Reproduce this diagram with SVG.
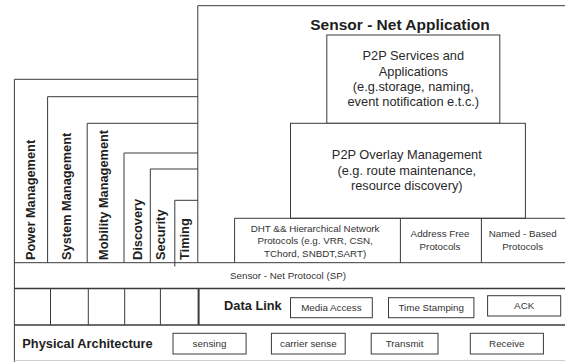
<svg xmlns="http://www.w3.org/2000/svg" width="565" height="362" viewBox="0 0 565 362">
<style>
  .ln { fill: none; stroke: #3a3a3a; stroke-width: 1; }
  .box { fill: #fff; stroke: #3a3a3a; stroke-width: 1; }
  .bold { font-family: "Liberation Sans", Arial, sans-serif; font-weight: bold; fill: #1e1e1e; }
  .t13 { font-family: "Liberation Sans", Arial, sans-serif; font-size: 12.8px; fill: #2a2a2a; text-anchor: middle; }
  .t10 { font-family: "Liberation Sans", Arial, sans-serif; font-size: 9.8px; fill: #333; text-anchor: middle; }
  .vt { font-family: "Liberation Sans", Arial, sans-serif; font-weight: bold; font-size: 12.8px; fill: #1e1e1e; }
</style>
<rect x="0" y="0" width="565" height="362" fill="#fff"/>

<g id="frame">
  <line class="ln" x1="14.4" y1="79.3" x2="14.4" y2="362"/>
  <line class="ln" x1="197.8" y1="5.7" x2="197.8" y2="262.7"/>
  <line class="ln" x1="197.8" y1="5.7" x2="565" y2="5.7"/>
  <line class="ln" x1="14.4" y1="262.7" x2="565" y2="262.7"/>
  <line class="ln" x1="14.4" y1="288.5" x2="565" y2="288.5" style="stroke-width:1.3"/>
  <line class="ln" x1="14.4" y1="325" x2="565" y2="325" style="stroke-width:1.3"/>
  <line x1="14.4" y1="360.5" x2="565" y2="360.5" stroke="#cfcfcf" stroke-width="1"/>
</g>

<g id="power-management">
  <path class="ln" d="M14.4 79.3 H197.8"/>
  <text class="vt" transform="translate(34.5,260) rotate(-90)">Power Management</text>
</g>
<g id="system-management">
  <path class="ln" d="M47.6 262.7 V96.7 H197.8"/>
  <text class="vt" transform="translate(71.2,260) rotate(-90)">System Management</text>
</g>
<g id="mobility-management">
  <path class="ln" d="M87.2 262.7 V123.3 H197.8"/>
  <text class="vt" transform="translate(108.3,260) rotate(-90)">Mobility Management</text>
</g>
<g id="discovery">
  <path class="ln" d="M124 262.7 V153 H197.8"/>
  <text class="vt" transform="translate(141.5,260) rotate(-90)">Discovery</text>
</g>
<g id="security">
  <path class="ln" d="M150.3 262.7 V169 H197.8"/>
  <text class="vt" transform="translate(164.5,260) rotate(-90)">Security</text>
</g>
<g id="timing">
  <path class="ln" d="M174.8 266.5 V200.3 H197.8"/>
  <text class="vt" transform="translate(188.8,260) rotate(-90)">Timing</text>
</g>

<g id="sensor-net-application">
  <text class="bold" x="400" y="29.5" font-size="15.5" text-anchor="middle">Sensor - Net Application</text>
</g>

<g id="p2p-services">
  <rect class="box" x="326.8" y="35" width="173" height="88.3"/>
  <text class="t13" x="413.3" y="60">P2P Services and</text>
  <text class="t13" x="413.3" y="75.5">Applications</text>
  <text class="t13" x="413.3" y="90.8">(e.g.storage, naming,</text>
  <text class="t13" x="413.3" y="106">event notification e.t.c.)</text>
</g>

<g id="p2p-overlay">
  <rect class="box" x="290.5" y="123.3" width="234.9" height="95"/>
  <text class="t13" x="406.8" y="159.3">P2P Overlay Management</text>
  <text class="t13" x="406.8" y="174.6">(e.g. route maintenance,</text>
  <text class="t13" x="406.8" y="189.5">resource discovery)</text>
</g>

<g id="dht-protocols">
  <path class="ln" d="M234.6 262.7 V218.3 H400.4 V262.7"/>
  <text class="t10" x="315.1" y="231.7">DHT &amp;&amp; Hierarchical Network</text>
  <text class="t10" x="315.1" y="244">Protocols (e.g. VRR, CSN,</text>
  <text class="t10" x="315.1" y="256.5">TChord, SNBDT,SART)</text>
</g>
<g id="address-free">
  <path class="ln" d="M400.4 218.3 H481.4 V262.7"/>
  <text class="t10" x="440" y="237.3">Address Free</text>
  <text class="t10" x="440" y="249.5">Protocols</text>
</g>
<g id="named-based">
  <path class="ln" d="M481.4 218.3 H565"/>
  <text class="t10" x="522.7" y="237.3">Named - Based</text>
  <text class="t10" x="522.7" y="249.5">Protocols</text>
</g>

<g id="sensor-net-protocol">
  <text class="t10" x="288" y="278.5">Sensor - Net Protocol (SP)</text>
</g>

<g id="data-link">
  <line class="ln" x1="50.5" y1="288.5" x2="50.5" y2="325"/>
  <line class="ln" x1="88.3" y1="288.5" x2="88.3" y2="325"/>
  <line class="ln" x1="124.7" y1="288.5" x2="124.7" y2="325"/>
  <line class="ln" x1="160.4" y1="288.5" x2="160.4" y2="325"/>
  <line class="ln" x1="198.6" y1="288.5" x2="198.6" y2="325" style="stroke-width:2"/>
  <text class="bold" x="224.1" y="310.3" font-size="12.8">Data Link</text>
</g>
<g id="media-access">
  <rect class="box" x="290.5" y="297.7" width="81.8" height="20"/>
  <text class="t10" x="331.4" y="311">Media Access</text>
</g>
<g id="time-stamping">
  <rect class="box" x="388.5" y="297.7" width="85.4" height="20"/>
  <text class="t10" x="431.2" y="311">Time Stamping</text>
</g>
<g id="ack">
  <rect class="box" x="487.6" y="295.7" width="73.1" height="20.3"/>
  <text class="t10" x="524.2" y="308.5">ACK</text>
</g>

<g id="physical-architecture">
  <text class="bold" x="22.3" y="347.8" font-size="12.8">Physical Architecture</text>
</g>
<g id="sensing">
  <rect class="box" x="173" y="333.3" width="73.1" height="20.7"/>
  <text class="t10" x="209.5" y="346.8">sensing</text>
</g>
<g id="carrier-sense">
  <rect class="box" x="271.4" y="333.3" width="73.8" height="20.7"/>
  <text class="t10" x="308.3" y="346.8">carrier sense</text>
</g>
<g id="transmit">
  <rect class="box" x="371.2" y="333.3" width="66.8" height="20.7"/>
  <text class="t10" x="404.6" y="346.8">Transmit</text>
</g>
<g id="receive">
  <rect class="box" x="470.3" y="333.3" width="73.1" height="20.7"/>
  <text class="t10" x="506.8" y="346.8">Receive</text>
</g>

<g id="connectors"></g>
</svg>
